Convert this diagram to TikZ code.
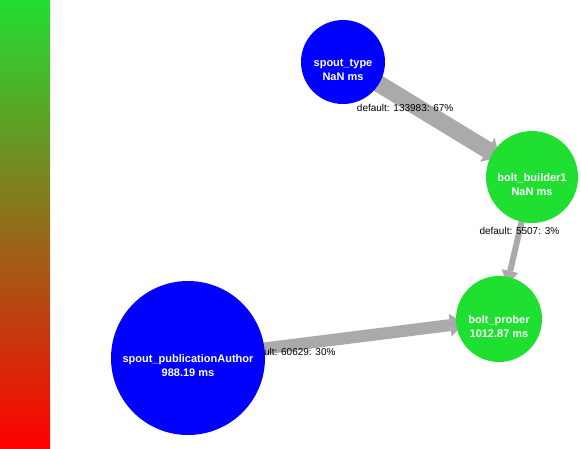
\documentclass[tikz,border=0pt]{standalone}
\usepackage{fontspec}
\setmainfont{Liberation Sans}
\usetikzlibrary{arrows.meta,backgrounds}
\definecolor{spoutblue}{HTML}{0000FF}
\definecolor{boltgreen}{HTML}{1FE030}
\definecolor{flowgray}{HTML}{AAAAAA}
\definecolor{bartop}{HTML}{22DD33}
\definecolor{barbottom}{HTML}{FF0000}
\newcommand{\comptext}[2]{\raisebox{-4pt}[0pt][0pt]{\begin{tabular}[t]{@{}c@{}}#1\\#2\end{tabular}}}

\begin{document}
\begin{tikzpicture}[x=1pt, y=-1pt,
    comp/.style={circle, inner sep=0pt, text=white, font=\fontsize{11}{14}\selectfont\bfseries},
    flow/.style 2 args={draw=flowgray, line width=#1, -{Triangle[length=14pt, width=#2, line width=0pt]}, shorten <=-10pt, shorten >=-8pt},
    flowlabel/.style={font=\fontsize{10}{12}\selectfont, inner sep=0pt}]
    \useasboundingbox (0,0) rectangle (581,448);
    % latency colour scale
    \shade[top color=bartop, bottom color=barbottom] (0,0) rectangle (50,448);

    % components
    \node[comp, fill=spoutblue, minimum size=84pt] (spouttype) at (343,62) {\comptext{spout\_type}{NaN ms}};
    \node[comp, fill=boltgreen, minimum size=92pt] (boltbuilder) at (532,177) {\comptext{bolt\_builder1}{NaN ms}};
    \node[comp, fill=boltgreen, minimum size=86pt] (boltprober) at (499,319) {\comptext{bolt\_prober}{1012.87 ms}};
    \node[comp, fill=spoutblue, minimum size=154pt] (spoutauthor) at (188,358) {\comptext{spout\_publicationAuthor}{988.19 ms}};

    % streams
    \begin{pgfonlayer}{background}
        \draw[flow={17pt}{28pt}] (spouttype) -- (boltbuilder) node[flowlabel, pos=0.23, yshift=-8pt] {default: 133983: 67\%};
        \draw[flow={6pt}{17pt}] (boltbuilder) -- (boltprober) node[flowlabel, pos=0.17] {default: 5507: 3\%};
        \draw[flow={12pt}{23pt}] (spoutauthor) -- (boltprober) node[flowlabel, pos=0.133, yshift=-7pt] {default: 60629: 30\%};
    \end{pgfonlayer}
\end{tikzpicture}
\end{document}
